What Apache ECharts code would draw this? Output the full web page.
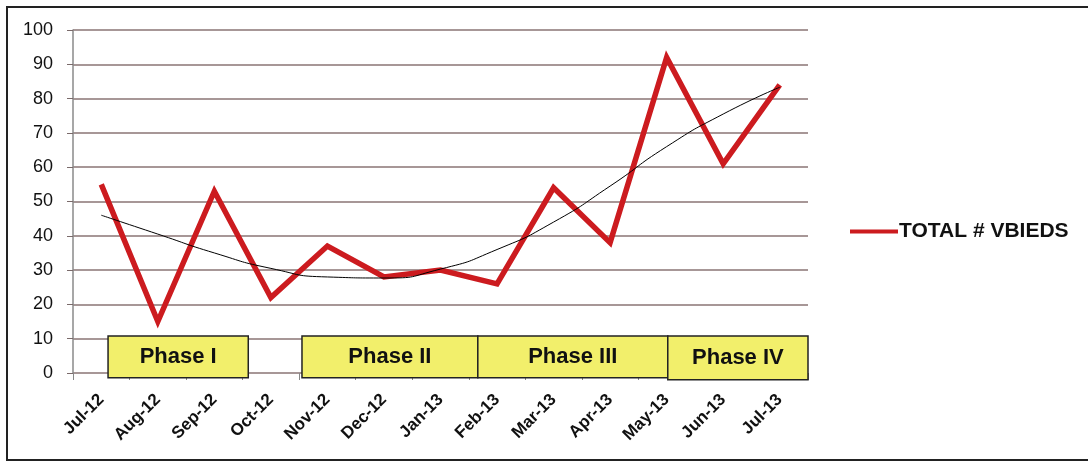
<!DOCTYPE html>
<html>
<head>
<meta charset="utf-8">
<script src="https://cdn.jsdelivr.net/npm/echarts@6/dist/echarts.min.js"></script>
<style>
html, body { margin: 0; padding: 0; background: #fff; }
#wrap { position: relative; width: 1088px; height: 463px; }
#frame { position: absolute; left: 6px; top: 6px; width: 1084px; height: 455px; border: 2px solid #222; box-sizing: border-box; pointer-events: none; }
#chart { width: 1088px; height: 463px; }
</style>
</head>
<body>
<div id="wrap">
  <div id="chart"></div>
  <div id="frame"></div>
</div>
<script>
// months on the x axis
const months = ['Jul-12', 'Aug-12', 'Sep-12', 'Oct-12', 'Nov-12', 'Dec-12', 'Jan-13',
                'Feb-13', 'Mar-13', 'Apr-13', 'May-13', 'Jun-13', 'Jul-13']
// TOTAL # VBIEDS per month
const vbieds = [55, 15, 53, 22, 37, 28, 30, 26, 54, 38, 92, 61, 84]
// trend line
const trend = [46, 40.5, 35, 30.5, 28, 27.7, 30.3, 36, 44, 54.5, 66, 75.5, 83.3]

// phase bands, in category units (0 = left edge of Jul-12)
const phaseNames = ['Phase I', 'Phase II', 'Phase III', 'Phase IV']
const phaseStart = [0.62, 4.05, 7.16, 10.52]
const phaseEnd = [3.10, 7.16, 10.52, 13.0]

const chart = echarts.init(document.getElementById('chart'))

const option = {
    backgroundColor: '#fff',
    animation: false,
    grid: { left: 73, right: 280, top: 30, bottom: 90, containLabel: false },
    legend: {
        left: 845,
        top: 216,
        orient: 'vertical',
        itemWidth: 48,
        itemHeight: 4,
        itemGap: 4,
        icon: 'rect',
        data: ['TOTAL # VBIEDS'],
        textStyle: {
            fontFamily: 'Liberation Sans',
            fontWeight: 'bold',
            fontSize: 21,
            color: '#111',
            padding: [0, 0, 0, -4]
        }
    },
    xAxis: [{
        type: 'category',
        data: months,
        boundaryGap: true,
        axisLine: { show: false },
        axisTick: { show: true, length: 7, lineStyle: { color: '#888' } },
        axisLabel: {
            rotate: 45,
            margin: 24,
            interval: 0,
            fontFamily: 'Liberation Sans',
            fontWeight: 'bold',
            fontSize: 17,
            color: '#111'
        }
    }, {
        type: 'value',
        min: 0,
        max: 13,
        show: false
    }],
    yAxis: {
        type: 'value',
        min: 0,
        max: 100,
        interval: 10,
        axisLine: { show: true, lineStyle: { color: '#8a8a8a', width: 1.5 } },
        axisTick: { show: true, length: 6, lineStyle: { color: '#7a6a6a' } },
        axisLabel: {
            margin: 20,
            fontFamily: 'Liberation Sans',
            fontSize: 18,
            color: '#111'
        },
        splitLine: { show: true, lineStyle: { color: '#8a7575', width: 1.5 } }
    },
    series: [{
        name: 'TOTAL # VBIEDS',
        type: 'line',
        data: vbieds,
        symbol: 'none',
        lineStyle: { color: '#cc1b1f', width: 5.5, join: 'miter' },
        itemStyle: { color: '#cc1b1f' },
        z: 3
    }, {
        name: 'trend',
        type: 'line',
        data: trend,
        smooth: 0.6,
        symbol: 'none',
        lineStyle: { color: '#000', width: 1 },
        z: 4
    }, {
        name: 'phases',
        type: 'custom',
        xAxisIndex: 1,
        clip: false,
        z: 5,
        data: phaseNames.map((n, i) => [phaseStart[i], phaseEnd[i], n]),
        renderItem: (params, api) => {
            const i = params.dataIndex
            const bottom = i === 3 ? -2 : -1.4
            const p0 = api.coord([api.value(0), 10.8])
            const p1 = api.coord([api.value(1), bottom])
            return {
                type: 'group',
                children: [{
                    type: 'rect',
                    shape: { x: p0[0], y: p0[1], width: p1[0] - p0[0], height: p1[1] - p0[1] },
                    style: { fill: '#f2ef6b', stroke: '#222', lineWidth: 1.5 }
                }, {
                    type: 'text',
                    style: {
                        x: (p0[0] + p1[0]) / 2,
                        y: (p0[1] + p1[1]) / 2,
                        text: phaseNames[i],
                        align: 'center',
                        verticalAlign: 'middle',
                        fontFamily: 'Liberation Sans',
                        fontWeight: 'bold',
                        fontSize: 22,
                        fill: '#111'
                    }
                }]
            }
        }
    }]
}

chart.setOption(option)
</script>
</body>
</html>
